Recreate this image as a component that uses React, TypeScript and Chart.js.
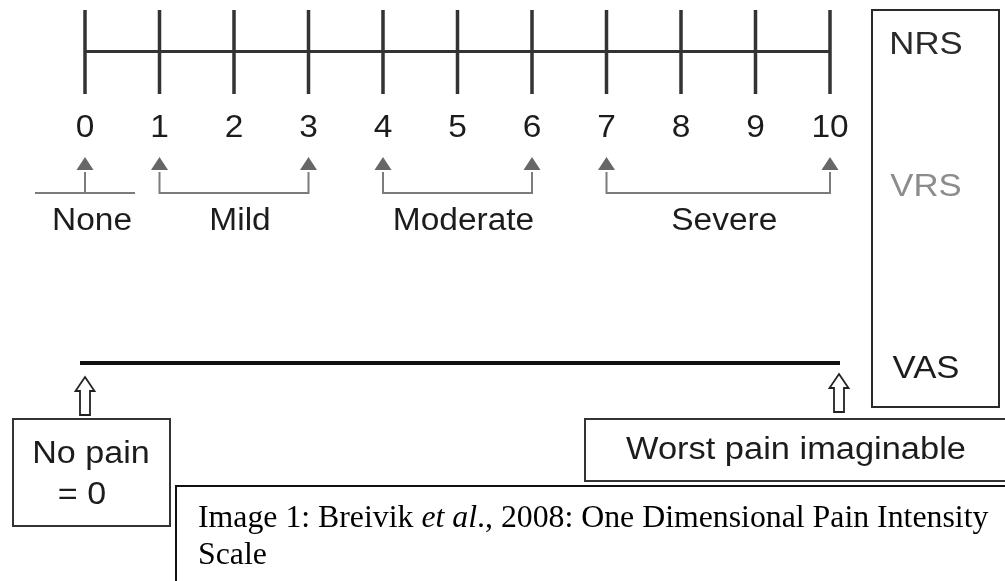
import React, { useEffect, useRef } from "react";
import { Chart, registerables } from "chart.js";

Chart.register(...registerables);

// ---------------- data ----------------
const nrsTicks: number[] = [0, 1, 2, 3, 4, 5, 6, 7, 8, 9, 10];
const nrsTickLabels: string[] = ["0", "1", "2", "3", "4", "5", "6", "7", "8", "9", "10"];
const vrsCategories: string[] = ["None", "Mild", "Moderate", "Severe"];
const vrsFrom: number[] = [0, 1, 4, 7];
const vrsTo: number[] = [0, 3, 6, 10];
const scaleNames: string[] = ["NRS", "VRS", "VAS"];
const vasRange: number[] = [0, 10];
const vasLowAnchor: string[] = ["No pain", "= 0"];
const vasHighAnchor: string[] = ["Worst pain imaginable"];
const captionParts: { text: string; italic: boolean }[] = [
  { text: "Image 1: Breivik ", italic: false },
  { text: "et al", italic: true },
  { text: "., 2008: One Dimensional Pain Intensity", italic: false },
];
const captionLine2 = "Scale";

// ---------------- layout (pixel rows of the 1005x581 canvas) ----------------
const W = 1005;
const H = 581;
const PX0 = 85; // pixel of value 0
const PX10 = 830; // pixel of value 10
const UNIT = (PX10 - PX0) / 10;
const X_MIN = -PX0 / UNIT;
const X_MAX = (W - PX0) / UNIT;

const Y = {
  nrsLine: 51.5,
  tickTop: 10,
  tickBottom: 94,
  numbers: 126,
  triTop: 157,
  triBottom: 170,
  bracketTop: 172,
  bracket: 193,
  categories: 219,
  vasLine: 363,
  arrowTop: 377,
  arrowBottom: 415,
};

const SANS = '"Liberation Sans", Arial, Helvetica, sans-serif';
const SERIF = '"Liberation Serif", "Times New Roman", serif';

function drawText(
  ctx: CanvasRenderingContext2D,
  s: string,
  x: number,
  yCenter: number,
  size: number,
  color: string,
  sx = 1,
  align: CanvasTextAlign = "center"
) {
  ctx.save();
  ctx.font = `${size}px ${SANS}`;
  ctx.fillStyle = color;
  ctx.textAlign = align;
  ctx.textBaseline = "alphabetic";
  ctx.translate(x, yCenter + size * 0.358);
  ctx.scale(sx, 1);
  ctx.fillText(s, 0, 0);
  ctx.restore();
}

function hollowArrow(ctx: CanvasRenderingContext2D, cx: number, top: number, bottom: number) {
  const headH = 14;
  const headW = 9.5;
  const shaftW = 5;
  ctx.save();
  ctx.beginPath();
  ctx.moveTo(cx, top);
  ctx.lineTo(cx + headW, top + headH);
  ctx.lineTo(cx + shaftW, top + headH);
  ctx.lineTo(cx + shaftW, bottom);
  ctx.lineTo(cx - shaftW, bottom);
  ctx.lineTo(cx - shaftW, top + headH);
  ctx.lineTo(cx - headW, top + headH);
  ctx.closePath();
  ctx.fillStyle = "#fff";
  ctx.fill();
  ctx.lineWidth = 1.8;
  ctx.strokeStyle = "#222";
  ctx.lineJoin = "miter";
  ctx.stroke();
  ctx.restore();
}

const diagramPlugin = {
  id: "painDiagram",
  afterDatasetsDraw(chart: any) {
    const ctx: CanvasRenderingContext2D = chart.ctx;
    const xs = chart.scales.x;
    const ys = chart.scales.y;
    const px = (v: number) => xs.getPixelForValue(v);
    const py = (v: number) => ys.getPixelForValue(v);

    // NRS tick numbers
    nrsTicks.forEach((v, i) => {
      drawText(ctx, nrsTickLabels[i], px(v), py(Y.numbers), 31, "#1c1c1c", 1.08);
    });

    // VRS triangles + brackets
    ctx.save();
    const triangle = (v: number) => {
      const cx = px(v);
      ctx.beginPath();
      ctx.moveTo(cx, py(Y.triTop));
      ctx.lineTo(cx + 8.5, py(Y.triBottom));
      ctx.lineTo(cx - 8.5, py(Y.triBottom));
      ctx.closePath();
      ctx.fillStyle = "#676767";
      ctx.fill();
    };
    ctx.strokeStyle = "#7c7c7c";
    ctx.lineWidth = 2;
    vrsCategories.forEach((name, i) => {
      const a = vrsFrom[i];
      const b = vrsTo[i];
      triangle(a);
      if (b !== a) triangle(b);
      ctx.beginPath();
      if (a === b) {
        ctx.moveTo(px(a), py(Y.bracketTop));
        ctx.lineTo(px(a), py(Y.bracket));
        ctx.moveTo(px(a) - 50, py(Y.bracket));
        ctx.lineTo(px(a) + 50, py(Y.bracket));
      } else {
        ctx.moveTo(px(a), py(Y.bracketTop));
        ctx.lineTo(px(a), py(Y.bracket));
        ctx.lineTo(px(b), py(Y.bracket));
        ctx.lineTo(px(b), py(Y.bracketTop));
      }
      ctx.stroke();
      const mid = a === b ? px(a) + 7 : (px(a) + px(b)) / 2 + 6;
      drawText(ctx, name, mid, py(Y.categories), 31, "#1c1c1c", 1.08);
    });
    ctx.restore();

    // VAS line
    ctx.save();
    ctx.strokeStyle = "#111";
    ctx.lineWidth = 4;
    ctx.beginPath();
    ctx.moveTo(px(vasRange[0]) - 5, py(Y.vasLine));
    ctx.lineTo(px(vasRange[1]) + 10, py(Y.vasLine));
    ctx.stroke();
    ctx.restore();

    // hollow arrows
    hollowArrow(ctx, px(vasRange[0]), py(Y.arrowTop), py(Y.arrowBottom));
    hollowArrow(ctx, px(vasRange[1]) + 9, py(Y.arrowTop) - 3, py(Y.arrowBottom) - 3);

    // scale names box
    ctx.save();
    ctx.strokeStyle = "#2a2a2a";
    ctx.lineWidth = 2;
    ctx.strokeRect(872, 10, 127, 397);
    ctx.restore();
    const nameY = [py(43), py(185), py(367)];
    const nameColor = ["#2a2a2a", "#8c8c8c", "#1c1c1c"];
    scaleNames.forEach((n, i) => drawText(ctx, n, 926, nameY[i], 31, nameColor[i], 1.12));

    // anchor boxes
    ctx.save();
    ctx.strokeStyle = "#333";
    ctx.lineWidth = 2;
    ctx.strokeRect(13, 419, 157, 107);
    ctx.strokeRect(585, 419, 430, 62);
    ctx.restore();
    drawText(ctx, vasLowAnchor[0], 91, py(452), 31, "#1c1c1c", 1.1);
    drawText(ctx, vasLowAnchor[1], 82, py(493), 31, "#1c1c1c", 1.1);
    drawText(ctx, vasHighAnchor[0], 796, py(448), 31, "#1c1c1c", 1.11);

    // caption box
    ctx.save();
    ctx.strokeStyle = "#111";
    ctx.lineWidth = 2;
    ctx.beginPath();
    ctx.moveTo(176, H + 2);
    ctx.lineTo(176, 486);
    ctx.lineTo(W + 2, 486);
    ctx.stroke();
    ctx.restore();

    ctx.save();
    ctx.fillStyle = "#000";
    ctx.textBaseline = "alphabetic";
    ctx.textAlign = "left";
    let cx = 198;
    const size = 31.8;
    captionParts.forEach((p) => {
      ctx.font = `${p.italic ? "italic " : ""}${size}px ${SERIF}`;
      ctx.fillText(p.text, cx, 527);
      cx += ctx.measureText(p.text).width;
    });
    ctx.font = `${size}px ${SERIF}`;
    ctx.fillText(captionLine2, 198, 564);
    ctx.restore();
  },
};

export default function App() {
  const ref = useRef<HTMLCanvasElement>(null);

  useEffect(() => {
    const canvas = ref.current;
    if (!canvas) return;
    const tickSegments: { x: number; y: number | null }[] = [];
    nrsTicks.forEach((v) => {
      tickSegments.push({ x: v, y: Y.tickTop });
      tickSegments.push({ x: v, y: Y.tickBottom });
      tickSegments.push({ x: v, y: null });
    });
    const chart = new Chart(canvas, {
      type: "line",
      data: {
        datasets: [
          {
            label: "NRS",
            data: nrsTicks.map((v) => ({ x: v, y: Y.nrsLine })),
            borderColor: "#333",
            borderWidth: 3,
            pointRadius: 0,
            fill: false,
          },
          {
            label: "NRS ticks",
            data: tickSegments as any,
            borderColor: "#333",
            borderWidth: 3.5,
            pointRadius: 0,
            spanGaps: false,
            fill: false,
          },
        ],
      },
      options: {
        animation: false,
        responsive: false,
        maintainAspectRatio: false,
        devicePixelRatio: 1,
        layout: { padding: 0 },
        plugins: { legend: { display: false }, tooltip: { enabled: false }, title: { display: false } },
        events: [],
        scales: {
          x: { type: "linear", min: X_MIN, max: X_MAX, display: false },
          y: { type: "linear", min: 0, max: H, reverse: true, display: false },
        },
      },
      plugins: [diagramPlugin],
    });
    return () => chart.destroy();
  }, []);

  return (
    <div style={{ position: "fixed", left: 0, top: 0, width: W, height: H, background: "#fff" }}>
      <canvas ref={ref} width={W} height={H} style={{ display: "block", width: W, height: H }} />
    </div>
  );
}
